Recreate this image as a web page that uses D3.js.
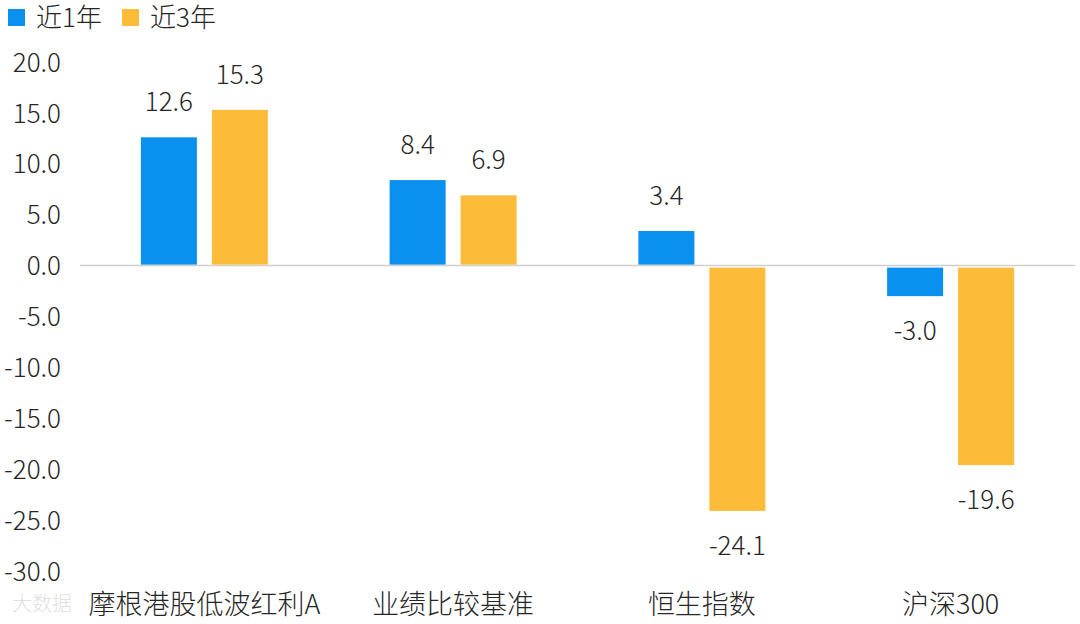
<!DOCTYPE html>
<html>
<head>
<meta charset="utf-8">
<script src="https://cdn.jsdelivr.net/npm/d3@7"></script>
<style>
  body { margin: 0; background: #fff; }
  text { font-family: "Noto Sans CJK SC", "Noto Sans", sans-serif; fill: #262626; font-weight: 300; }
</style>
</head>
<body>
<svg id="chart"></svg>
<script>
// values
const categories = ["摩根港股低波红利A", "业绩比较基准", "恒生指数", "沪深300"];
const seriesNames = ["近1年", "近3年"];
const oneYear = [12.6, 8.4, 3.4, -3.0];
const threeYear = [15.3, 6.9, -24.1, -19.6];
const yTicks = [20, 15, 10, 5, 0, -5, -10, -15, -20, -25, -30];
const colors = ["#0a90ef", "#fdbb3a"];

const width = 1080, height = 624;
const margin = { left: 80, right: 5, top: 62, bottom: 53 };
const fmt = v => d3.format(".1f")(v).replace("\u2212", "-");

const svg = d3.select("#chart")
    .attr("width", width)
    .attr("height", height)
    .attr("viewBox", [0, 0, width, height]);

const x = d3.scaleBand()
    .domain(categories)
    .range([margin.left, width - margin.right]);

const x1 = d3.scaleBand()
    .domain(seriesNames)
    .range([-63.5, 63.5])
    .paddingInner(0.211);

const y = d3.scaleLinear()
    .domain([-30, 20])
    .range([height - margin.bottom, margin.top]);

// y axis labels, no line
const yAxis = d3.axisLeft(y)
    .tickValues(yTicks)
    .tickFormat(fmt)
    .tickSize(0)
    .tickPadding(0);

svg.append("g")
    .attr("transform", "translate(61,0)")
    .call(yAxis)
    .call(g => g.select(".domain").remove())
    .call(g => g.selectAll("text")
        .attr("font-size", 26)
        .attr("dy", "0.35em")
        .style("font-family", "'Noto Sans CJK SC', sans-serif")
        .attr("fill", "#262626"));

// zero line
svg.append("line")
    .attr("x1", margin.left)
    .attr("x2", width - margin.right)
    .attr("y1", y(0))
    .attr("y2", y(0))
    .attr("stroke", "#d0d0d0")
    .attr("stroke-width", 1.5);

const rows = categories.map((c, i) => ({ cat: c, vals: [oneYear[i], threeYear[i]] }));

const groups = svg.append("g")
    .selectAll("g")
    .data(rows)
    .join("g")
    .attr("transform", d => `translate(${x(d.cat) + x.bandwidth() / 2},0)`);

groups.selectAll("rect")
    .data(d => d.vals.map((v, j) => ({ name: seriesNames[j], v, j })))
    .join("rect")
    .attr("x", d => x1(d.name))
    .attr("width", x1.bandwidth())
    .attr("y", d => d.v >= 0 ? y(d.v) : y(0) + 2)
    .attr("height", d => Math.abs(y(d.v) - y(0)) - (d.v >= 0 ? 1 : 2))
    .attr("fill", d => colors[d.j]);

groups.selectAll("text.val")
    .data(d => d.vals.map((v, j) => ({ name: seriesNames[j], v, j })))
    .join("text")
    .attr("class", "val")
    .attr("x", d => x1(d.name) + x1.bandwidth() / 2)
    .attr("y", d => d.v >= 0 ? y(d.v) - 35 : y(d.v) + 35)
    .attr("dy", "0.35em")
    .attr("text-anchor", "middle")
    .attr("font-size", 26)
    .text(d => fmt(d.v));

// category labels
const xAxis = d3.axisBottom(x).tickSize(0).tickPadding(0);
svg.append("g")
    .attr("transform", `translate(0,${height - margin.bottom})`)
    .call(xAxis)
    .call(g => g.select(".domain").remove())
    .call(g => g.selectAll("text")
        .attr("y", 34)
        .attr("dy", "0.35em")
        .attr("font-size", 27)
        .style("font-family", "'Noto Sans CJK SC', sans-serif")
        .attr("fill", "#262626"));

// legend
const legend = svg.append("g")
    .selectAll("g")
    .data(seriesNames)
    .join("g")
    .attr("transform", (d, i) => `translate(${8 + i * 114},0)`);

legend.append("rect")
    .attr("y", 9)
    .attr("width", 17)
    .attr("height", 17)
    .attr("fill", (d, i) => colors[i]);

legend.append("text")
    .attr("x", 28)
    .attr("y", 18)
    .attr("dy", "0.35em")
    .attr("font-size", 26)
    .text(d => d);

// faint watermark in the corner, partly under the first label
svg.append("text")
    .attr("x", 12)
    .attr("y", 604)
    .attr("dy", "0.35em")
    .attr("font-size", 20)
    .style("fill", "#e0e0e0")
    .text("大数据");
</script>
</body>
</html>
